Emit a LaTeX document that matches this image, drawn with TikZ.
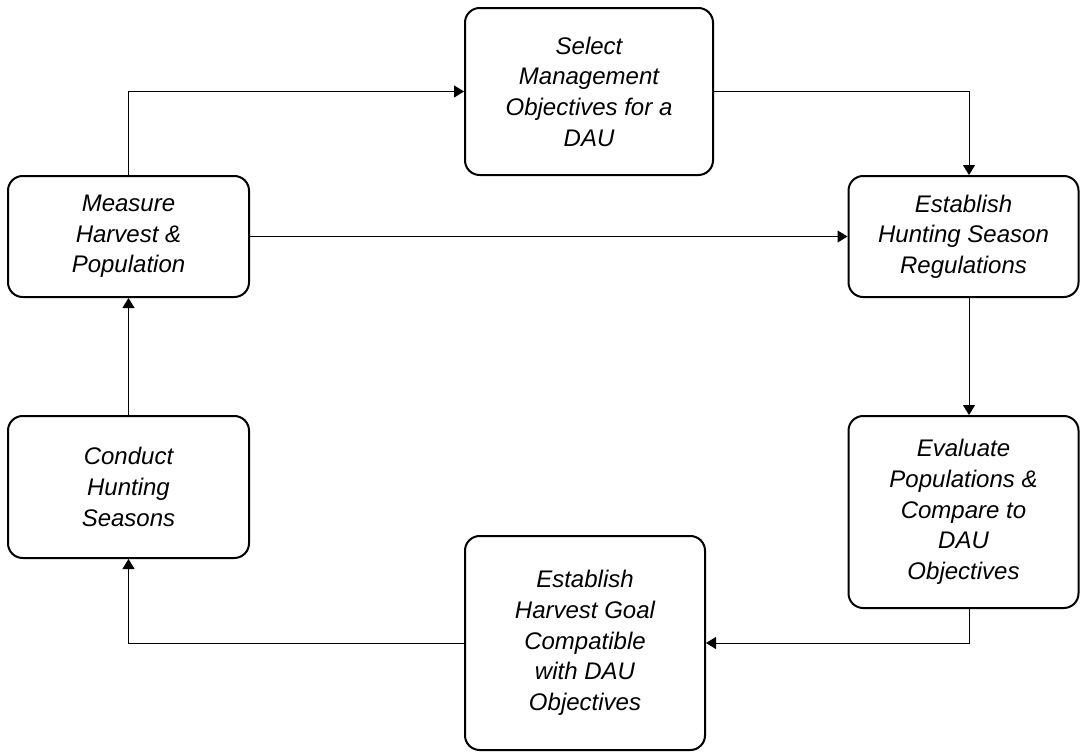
\documentclass[tikz,border=0pt]{standalone}
\usepackage{fontspec}
\setmainfont{Liberation Sans}
\usepackage{tikz}
\usetikzlibrary{arrows.meta,positioning}

\tikzset{
  stage/.style={draw,line width=1.5pt,rounded corners=11pt,align=center,
    font=\fontsize{18}{23}\selectfont\itshape,inner sep=2pt},
  flow/.style={line width=0.75pt,-{Triangle[length=7.5pt,width=9pt]}}
}

\begin{document}
\begin{tikzpicture}[x=0.75pt,y=-0.75pt]
  \useasboundingbox (0,0) rectangle (1080,753);
  \node[stage,minimum width=186pt,minimum height=125.25pt] (sel) at (589,91.5) {Select\\Management\\Objectives for a\\DAU};
  \node[stage,minimum width=180.75pt,minimum height=90.75pt] (meas) at (128.5,236.5) {Measure\\Harvest \&\\Population};
  \node[stage,minimum width=172.5pt,minimum height=90.75pt] (est) at (963.5,236.5) {Establish\\Hunting Season\\Regulations};
  \node[stage,minimum width=172.5pt,minimum height=144pt] (eval) at (963.5,512) {Evaluate\\Populations \&\\Compare to\\DAU\\Objectives};
  \node[stage,minimum width=180pt,minimum height=160.5pt] (goal) at (585,643) {Establish\\Harvest Goal\\Compatible\\with DAU\\Objectives};
  \node[stage,minimum width=180.75pt,minimum height=106.5pt] (cond) at (128.5,487) {Conduct\\Hunting\\Seasons};
  % right-hand column of the links
  \coordinate (rcol) at (969,0);
  % cycle
  \draw[flow] (meas.north) |- (sel.west);
  \draw[flow] (sel.east) -| (rcol |- est.north);
  \draw[flow] (meas.east) -- (est.west);
  \draw[flow] (rcol |- est.south) -- (rcol |- eval.north);
  \draw[flow] (rcol |- eval.south) |- (goal.east);
  \draw[flow] (goal.west) -| (cond.south);
  \draw[flow] (cond.north) -- (meas.south);
\end{tikzpicture}
\end{document}
